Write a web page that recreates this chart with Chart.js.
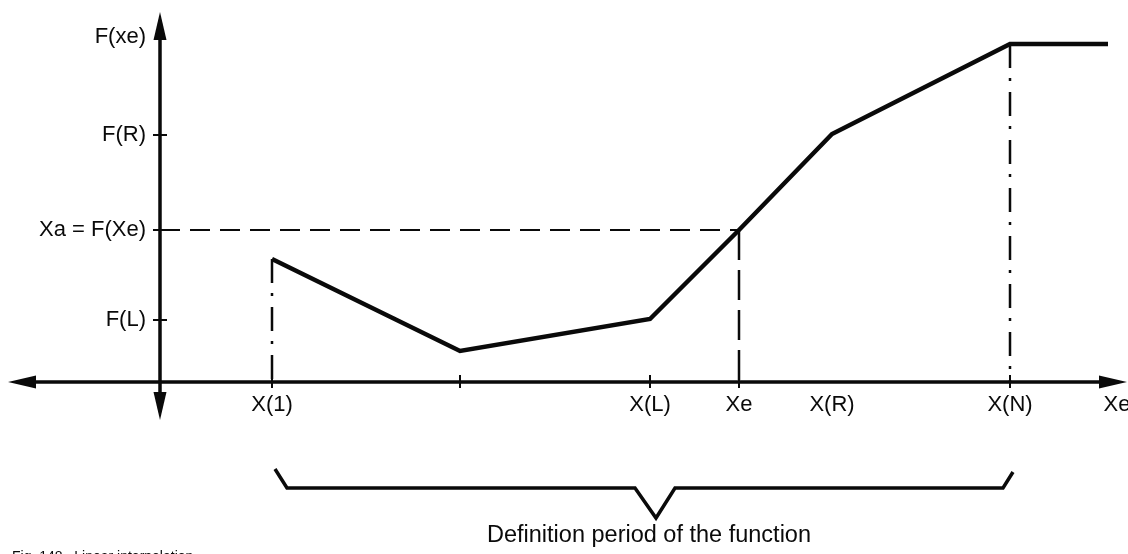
<!DOCTYPE html>
<html>
<head>
<meta charset="utf-8">
<title>Definition period of the function</title>
<script src="https://cdn.jsdelivr.net/npm/chart.js@4/dist/chart.umd.min.js"></script>
<style>
  html, body { margin: 0; padding: 0; background: #fff; }
  #wrap { width: 1128px; height: 554px; position: relative; }
</style>
</head>
<body>
<div id="wrap"><canvas id="fn"></canvas></div>
<script>
// piecewise linear function, read as (x, y) vertices
const curveX = [11.2, 30, 49, 57.9, 67.2, 85, 94.8];
const curveY = [12.3, 3.1, 6.3, 15.2, 24.8, 33.8, 33.8];

// x axis: tick marks and labels
const xTicks = [11.2, 30, 49, 57.9, 85];
const xLabelPos = [11.2, 49, 57.9, 67.2, 85, 95.7];
const xLabels = ['X(1)', 'X(L)', 'Xe', 'X(R)', 'X(N)', 'Xe'];

// y axis: tick marks and labels (no mark at F(xe), the arrow sits there)
const yTicks = [6.2, 15.2, 24.7];
const yLabelPos = [6.2, 15.2, 24.7, 34.5];
const yLabels = ['F(L)', 'Xa = F(Xe)', 'F(R)', 'F(xe)'];

// the brace under the definition period
const braceX = [11.5, 12.7, 47.5, 49.6, 51.5, 84.3, 85.3];
const braceY = [-8.7, -10.6, -10.6, -13.6, -10.6, -10.6, -9.0];

const xe = 57.9, xa = 15.2, xOne = 11.2, xN = 85, fxe = 33.8;

const pts = (xs, ys) => xs.map((x, i) => ({ x, y: ys[i] }));
const FONT = '"Liberation Sans", Arial, sans-serif';
const INK = '#0a0a0a';

const guide = (data, dash, width) => ({
  data, borderColor: INK, borderWidth: width, borderDash: dash,
  pointRadius: 0, showLine: true, clip: false, tension: 0
});

// axes, arrows, ticks and text
const axesPlugin = {
  id: 'axes',
  afterDatasetsDraw(chart) {
    const { ctx, scales: { x, y } } = chart;
    const px = v => x.getPixelForValue(v);
    const py = v => y.getPixelForValue(v);
    const ox = px(0), oy = py(0);
    ctx.save();
    ctx.strokeStyle = INK;
    ctx.fillStyle = INK;
    ctx.lineWidth = 3.5;
    ctx.lineCap = 'butt';

    ctx.beginPath();
    ctx.moveTo(px(-14), oy); ctx.lineTo(px(95.5), oy);
    ctx.moveTo(ox, py(35.5)); ctx.lineTo(ox, py(-2.8));
    ctx.stroke();

    const arrow = (tx, ty, dx, dy) => {
      const len = 28, hw = 6.5;
      const bx = tx - dx * len, by = ty - dy * len;
      ctx.beginPath();
      ctx.moveTo(tx, ty);
      ctx.lineTo(bx - dy * hw, by + dx * hw);
      ctx.lineTo(bx + dy * hw, by - dx * hw);
      ctx.closePath();
      ctx.fill();
    };
    arrow(px(-15.2), oy, -1, 0);
    arrow(px(96.7), oy, 1, 0);
    arrow(ox, py(37), 0, -1);
    arrow(ox, py(-3.8), 0, 1);

    ctx.lineWidth = 2;
    ctx.beginPath();
    xTicks.forEach(v => { ctx.moveTo(px(v), oy - 7); ctx.lineTo(px(v), oy + 6); });
    yTicks.forEach(v => { ctx.moveTo(ox - 7, py(v)); ctx.lineTo(ox + 7, py(v)); });
    ctx.stroke();

    ctx.font = '22px ' + FONT;
    ctx.textBaseline = 'middle';
    ctx.textAlign = 'center';
    xLabels.forEach((t, i) => ctx.fillText(t, px(xLabelPos[i]), oy + 23));
    ctx.textAlign = 'right';
    yLabels.forEach((t, i) => ctx.fillText(t, ox - 14, py(yLabelPos[i])));

    ctx.textAlign = 'center';
    ctx.textBaseline = 'alphabetic';
    ctx.font = '23.5px ' + FONT;
    ctx.fillText('Definition period of the function', px(48.9), py(-16));

    ctx.textAlign = 'left';
    ctx.textBaseline = 'top';
    ctx.font = '14px ' + FONT;
    ctx.fillText('Fig. 148   Linear interpolation', 12, py(-16.8));
    ctx.restore();
  }
};

new Chart(document.getElementById('fn'), {
  type: 'scatter',
  data: {
    datasets: [
      {
        data: pts(curveX, curveY), borderColor: INK, borderWidth: 4.5,
        pointRadius: 0, showLine: true, clip: false, tension: 0,
        borderJoinStyle: 'miter'
      },
      guide([{ x: 0, y: xa }, { x: xe, y: xa }], [20, 10], 2),
      guide([{ x: xOne, y: curveY[0] }, { x: xOne, y: 0 }], [24, 10, 3, 11], 2.5),
      guide([{ x: xe, y: xa }, { x: xe, y: 0 }], [30, 10], 2.5),
      guide([{ x: xN, y: fxe }, { x: xN, y: 0 }], [24, 10, 3, 11], 2.5),
      guide(pts(braceX, braceY), [], 3.5)
    ]
  },
  options: {
    responsive: true,
    maintainAspectRatio: false,
    animation: false,
    layout: { padding: 0 },
    plugins: { legend: { display: false }, tooltip: { enabled: false } },
    scales: {
      x: { type: 'linear', min: -16, max: 96.8, display: false },
      y: { type: 'linear', min: -17.2, max: 38.2, display: false }
    }
  },
  plugins: [axesPlugin]
});
</script>
</body>
</html>
